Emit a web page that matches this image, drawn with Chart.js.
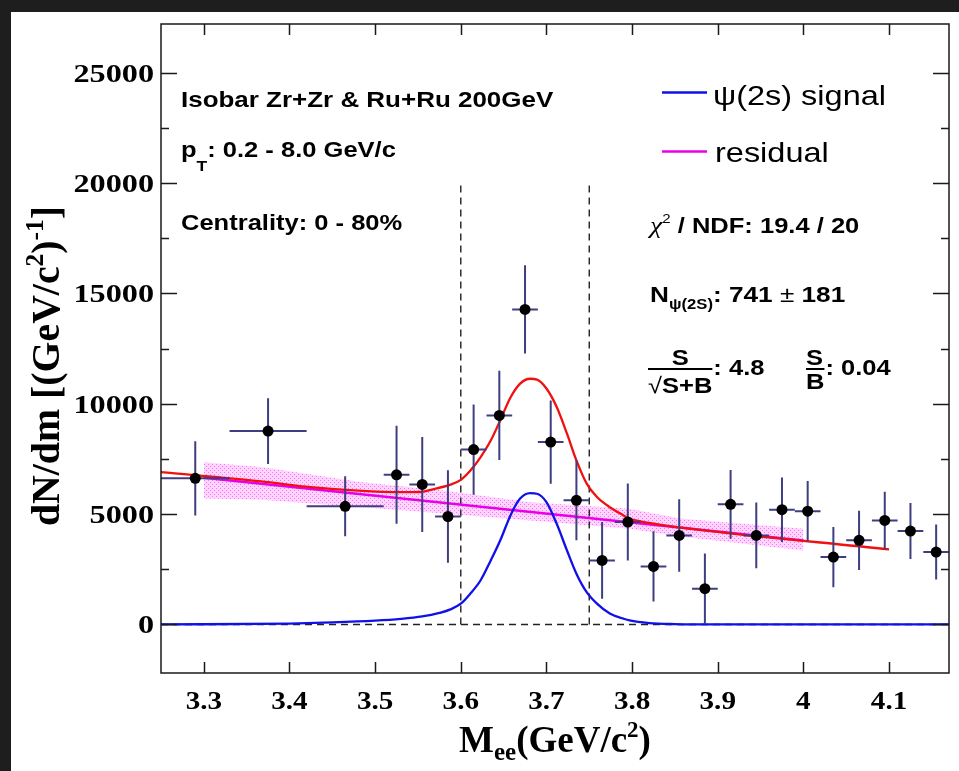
<!DOCTYPE html>
<html>
<head>
<meta charset="utf-8">
<script src="https://cdn.jsdelivr.net/npm/chart.js@4.4.1/dist/chart.umd.min.js"></script>
<style>
  html, body { margin: 0; padding: 0; background: #1e1e1e; }
  #chart { display: block; }
</style>
</head>
<body>
<canvas id="chart" width="959" height="771"></canvas>
<script>
// measured dN/dm spectrum (bin centres / half widths in GeV/c^2)
const binCenters = [3.29, 3.375, 3.465, 3.525, 3.555, 3.585, 3.615, 3.645, 3.675, 3.705, 3.735, 3.765, 3.795,
                    3.825, 3.855, 3.885, 3.915, 3.945, 3.975, 4.005, 4.035, 4.065, 4.095, 4.125, 4.155];
const binHalfWidths = [0.04, 0.045, 0.045, 0.015, 0.015, 0.015, 0.015, 0.015, 0.015, 0.015, 0.015, 0.015, 0.015,
                       0.015, 0.015, 0.015, 0.015, 0.015, 0.015, 0.015, 0.015, 0.015, 0.015, 0.015, 0.015];
const counts = [6620, 8760, 5350, 6780, 6340, 4890, 7920, 9470, 14270, 8260, 5620, 2900, 4640,
                2630, 4030, 1620, 5440, 4030, 5200, 5130, 3050, 3810, 4710, 4230, 3280];
const countErrors = [1680, 1490, 1360, 2220, 2150, 2090, 2040, 2020, 2000, 1890, 1810, 1740, 1740,
                     1590, 1640, 1590, 1560, 1490, 1460, 1370, 1360, 1340, 1300, 1270, 1250];

// psi(2S) signal shape (blue)
const signalMass = [3.25, 3.40, 3.45, 3.50, 3.53, 3.555, 3.575, 3.588, 3.600, 3.611, 3.623, 3.635, 3.646, 3.658, 3.669,
                    3.681, 3.689, 3.700, 3.712, 3.724, 3.735, 3.747, 3.759, 3.774, 3.790, 3.797, 3.82, 3.85, 3.90, 4.17];
const signalYield = [0, 40, 90, 170, 250, 360, 520, 680, 940, 1390, 1990, 2900, 3800, 4940, 5690,
                     5950, 5920, 5540, 4560, 3350, 2300, 1460, 940, 490, 260, 180, 60, 15, 0, 0];

// signal + residual fit (red)
const totalMass = [3.25, 3.367, 3.425, 3.48, 3.53, 3.553, 3.565, 3.588, 3.600, 3.611, 3.623, 3.635, 3.646, 3.658,
                   3.669, 3.681, 3.689, 3.700, 3.712, 3.724, 3.735, 3.747, 3.759, 3.774, 3.790, 3.797, 3.82, 3.85, 4.10];
const totalYield = [6900, 6480, 6220, 6060, 5990, 6000, 6100, 6330, 6550, 6960, 7570, 8330, 9240, 10280,
                    10900, 11130, 11090, 10690, 9850, 8640, 7430, 6380, 5770, 5310, 4940, 4790, 4600, 4420, 3400];

// residual linear fit and its uncertainty band (magenta)
const residualMass = [3.30, 4.00];
const residualYield = [6640, 3805];
const bandMass = [3.30, 3.367, 3.483, 3.58, 3.681, 3.797, 3.856, 4.00];
const bandUpper = [7350, 7130, 6450, 6070, 5540, 5240, 4800, 4340];
const bandLower = [5700, 5650, 5320, 5020, 4710, 4340, 3980, 3350];

// counting window
const windowMass = [3.6, 3.75];
const windowTop = 20000;

const xTicks = [3.3, 3.4, 3.5, 3.6, 3.7, 3.8, 3.9, 4.0, 4.1];
const xTickLabels = ['3.3', '3.4', '3.5', '3.6', '3.7', '3.8', '3.9', '4', '4.1'];
const yTicks = [0, 5000, 10000, 15000, 20000, 25000];
const yTickLabels = ['0', '5000', '10000', '15000', '20000', '25000'];
const yMinorTicks = [2500, 7500, 12500, 17500, 22500];

const xy = (xs, ys) => xs.map((x, i) => ({ x: x, y: ys[i] }));

const SX = 1.16;
const SANS = '"Liberation Sans", "DejaVu Sans", Arial, sans-serif';
const SERIF = '"Liberation Serif", "DejaVu Serif", "Times New Roman", serif';

// draw a run of text pieces (for sub/superscripts), stretched horizontally like the original figure
function textRun(ctx, x, y, items, align, sx) {
    sx = sx || SX;
    ctx.save();
    let w = 0;
    items.forEach(it => { ctx.font = it.font; w += ctx.measureText(it.text).width; });
    let start = x;
    if (align === 'right') start = x - w * sx;
    if (align === 'center') start = x - w * sx / 2;
    ctx.translate(start, y);
    ctx.scale(sx, 1);
    ctx.textAlign = 'left';
    ctx.textBaseline = 'alphabetic';
    let cx = 0;
    items.forEach(it => {
        ctx.font = it.font;
        ctx.fillStyle = it.color || '#000';
        ctx.fillText(it.text, cx, it.dy || 0);
        cx += ctx.measureText(it.text).width;
    });
    ctx.restore();
    return w * sx;
}

const ctx0 = document.getElementById('chart').getContext('2d');
function bandPattern() {
    const c = document.createElement('canvas');
    c.width = 4; c.height = 4;
    const g = c.getContext('2d');
    g.fillStyle = 'rgba(255,150,255,0.40)';
    g.fillRect(0, 0, 4, 4);
    g.fillStyle = 'rgba(235,40,235,0.55)';
    g.fillRect(0, 0, 1, 1);
    g.fillRect(2, 2, 1, 1);
    return ctx0.createPattern(c, 'repeat');
}

const pagePlugin = {
    id: 'page',
    beforeDraw(chart) {
        const ctx = chart.ctx;
        ctx.save();
        ctx.fillStyle = '#1e1e1e';
        ctx.fillRect(0, 0, chart.width, chart.height);
        ctx.fillStyle = '#ffffff';
        ctx.fillRect(11, 12, chart.width - 11, chart.height - 12);
        ctx.restore();
    }
};

const errorBarPlugin = {
    id: 'errorBars',
    beforeDatasetDraw(chart, args) {
        if (args.index !== 0) return;
        const ctx = chart.ctx, xs = chart.scales.x, ys = chart.scales.y, a = chart.chartArea;
        ctx.save();
        ctx.beginPath();
        ctx.rect(a.left, a.top, a.right - a.left, a.bottom - a.top);
        ctx.clip();
        ctx.strokeStyle = 'rgb(62,62,128)';
        ctx.lineWidth = 2;
        binCenters.forEach((m, i) => {
            const px = xs.getPixelForValue(m), py = ys.getPixelForValue(counts[i]);
            ctx.beginPath();
            ctx.moveTo(xs.getPixelForValue(m - binHalfWidths[i]), py);
            ctx.lineTo(xs.getPixelForValue(m + binHalfWidths[i]), py);
            ctx.moveTo(px, ys.getPixelForValue(counts[i] - countErrors[i]));
            ctx.lineTo(px, ys.getPixelForValue(counts[i] + countErrors[i]));
            ctx.stroke();
        });
        ctx.restore();
    }
};

const framePlugin = {
    id: 'frame',
    afterDraw(chart) {
        const ctx = chart.ctx, xs = chart.scales.x, ys = chart.scales.y, a = chart.chartArea;
        ctx.save();
        ctx.strokeStyle = '#1a1a1a';
        ctx.lineWidth = 1.5;
        ctx.strokeRect(a.left, a.top, a.right - a.left, a.bottom - a.top);
        ctx.beginPath();
        xTicks.forEach(v => {
            const px = Math.round(xs.getPixelForValue(v)) + 0.5;
            ctx.moveTo(px, a.bottom); ctx.lineTo(px, a.bottom - 11);
            ctx.moveTo(px, a.top); ctx.lineTo(px, a.top + 11);
        });
        yTicks.forEach(v => {
            const py = Math.round(ys.getPixelForValue(v)) + 0.5;
            ctx.moveTo(a.left, py); ctx.lineTo(a.left + 16, py);
            ctx.moveTo(a.right, py); ctx.lineTo(a.right - 16, py);
        });
        yMinorTicks.forEach(v => {
            const py = Math.round(ys.getPixelForValue(v)) + 0.5;
            ctx.moveTo(a.left, py); ctx.lineTo(a.left + 8, py);
            ctx.moveTo(a.right, py); ctx.lineTo(a.right - 8, py);
        });
        ctx.stroke();

        // tick labels
        const tickFont = 'bold 26px ' + SERIF;
        xTicks.forEach((v, i) => {
            textRun(ctx, xs.getPixelForValue(v), a.bottom + 36, [{ text: xTickLabels[i], font: tickFont }], 'center', 1.12);
        });
        yTicks.forEach((v, i) => {
            textRun(ctx, a.left - 7, ys.getPixelForValue(v) + 9, [{ text: yTickLabels[i], font: tickFont }], 'right', 1.24);
        });

        // axis titles
        const tb = s => 'bold ' + s + 'px ' + SERIF;
        textRun(ctx, (a.left + a.right) / 2, 752, [
            { text: 'M', font: tb(37) }, { text: 'ee', font: tb(25), dy: 8 },
            { text: '(GeV/c', font: tb(37) }, { text: '2', font: tb(23), dy: -15 }, { text: ')', font: tb(37) }
        ], 'center', 1);
        ctx.save();
        ctx.translate(59, 366);
        ctx.rotate(-Math.PI / 2);
        textRun(ctx, 0, 0, [
            { text: 'dN/dm [(GeV/c', font: tb(39) }, { text: '2', font: tb(25), dy: -16 },
            { text: ')', font: tb(39) }, { text: '-1', font: tb(25), dy: -16 }, { text: ']', font: tb(39) }
        ], 'center', 1.02);
        ctx.restore();

        // annotations
        const b = s => 'bold ' + s + 'px ' + SANS;
        const r = s => s + 'px ' + SANS;
        textRun(ctx, 181, 107, [{ text: 'Isobar Zr+Zr & Ru+Ru 200GeV', font: b(22) }], 'left', 1.18);
        textRun(ctx, 181, 157, [{ text: 'p', font: b(22) }, { text: 'T', font: b(15), dy: 14 },
                                 { text: ': 0.2 - 8.0 GeV/c', font: b(22) }]);
        textRun(ctx, 181, 230, [{ text: 'Centrality: 0 - 80%', font: b(22) }]);

        textRun(ctx, 650, 233, [{ text: 'χ', font: 'italic 24px ' + SERIF }, { text: '2', font: r(13), dy: -10 },
                                 { text: ' / NDF: 19.4 / 20', font: b(22) }]);
        textRun(ctx, 650, 302, [{ text: 'N', font: b(22) }, { text: 'ψ(2S)', font: b(14), dy: 7 },
                                 { text: ': 741 ', font: b(22) }, { text: '±', font: r(22) }, { text: ' 181', font: b(22) }],
                'left', 1.19);

        // S / sqrt(S+B)
        ctx.strokeStyle = '#000';
        ctx.lineWidth = 2;
        let w = textRun(ctx, 648, 393, [{ text: '√', font: r(22) }, { text: 'S+B', font: b(22) }]);
        ctx.beginPath(); ctx.moveTo(648, 369); ctx.lineTo(648 + w, 369); ctx.stroke();
        textRun(ctx, 648 + w / 2, 365, [{ text: 'S', font: b(22) }], 'center');
        textRun(ctx, 648 + w + 1, 375, [{ text: ': 4.8', font: b(22) }]);
        // S / B
        const x2 = 806;
        let wb = textRun(ctx, x2, 389, [{ text: 'B', font: b(22) }]);
        ctx.beginPath(); ctx.moveTo(x2, 369); ctx.lineTo(x2 + wb, 369); ctx.stroke();
        textRun(ctx, x2, 365, [{ text: 'S', font: b(22) }]);
        textRun(ctx, x2 + wb + 1, 375, [{ text: ': 0.04', font: b(22) }]);

        // legend
        ctx.lineWidth = 2.5;
        ctx.strokeStyle = '#1010e8';
        ctx.beginPath(); ctx.moveTo(662, 92.5); ctx.lineTo(707, 92.5); ctx.stroke();
        ctx.strokeStyle = '#e800e8';
        ctx.beginPath(); ctx.moveTo(662, 151.5); ctx.lineTo(707, 151.5); ctx.stroke();
        textRun(ctx, 713, 105, [{ text: 'ψ(2s) signal', font: r(28) }]);
        textRun(ctx, 715, 161.5, [{ text: 'residual', font: r(28) }]);
        ctx.restore();
    }
};

const dashStyle = { borderColor: '#222', borderWidth: 1.4, borderDash: [7, 5], pointRadius: 0, fill: false, order: 5 };

new Chart(document.getElementById('chart'), {
    type: 'line',
    data: {
        datasets: [
            { label: 'data', data: xy(binCenters, counts), showLine: false, pointRadius: 5.5,
              pointBackgroundColor: '#000', pointBorderWidth: 0, order: 1 },
            { label: 'ψ(2s) signal', data: xy(signalMass, signalYield), borderColor: '#1010e8', borderWidth: 2.3,
              pointRadius: 0, cubicInterpolationMode: 'monotone', order: 2 },
            { label: 'total', data: xy(totalMass, totalYield), borderColor: '#f01010', borderWidth: 2.3,
              pointRadius: 0, cubicInterpolationMode: 'monotone', order: 3 },
            { label: 'residual', data: xy(residualMass, residualYield), borderColor: '#e800e8', borderWidth: 2.5,
              pointRadius: 0, order: 4 },
            Object.assign({ label: 'low', data: xy([windowMass[0], windowMass[0]], [0, windowTop]) }, dashStyle),
            Object.assign({ label: 'high', data: xy([windowMass[1], windowMass[1]], [0, windowTop]) }, dashStyle),
            Object.assign({ label: 'zero', data: xy([3.25, 4.17], [0, 0]) }, dashStyle),
            { label: 'band up', data: xy(bandMass, bandUpper), borderWidth: 0, pointRadius: 0,
              backgroundColor: bandPattern(), fill: '+1', order: 6 },
            { label: 'band low', data: xy(bandMass, bandLower), borderWidth: 0, pointRadius: 0, fill: false, order: 7 }
        ]
    },
    options: {
        responsive: false,
        animation: false,
        events: [],
        layout: { padding: { left: 161, top: 24, right: 10, bottom: 98 } },
        plugins: { legend: { display: false }, tooltip: { enabled: false } },
        scales: {
            x: { type: 'linear', min: 3.25, max: 4.17, display: false },
            y: { type: 'linear', min: -2200, max: 27200, display: false }
        }
    },
    plugins: [pagePlugin, errorBarPlugin, framePlugin]
});
</script>
</body>
</html>
